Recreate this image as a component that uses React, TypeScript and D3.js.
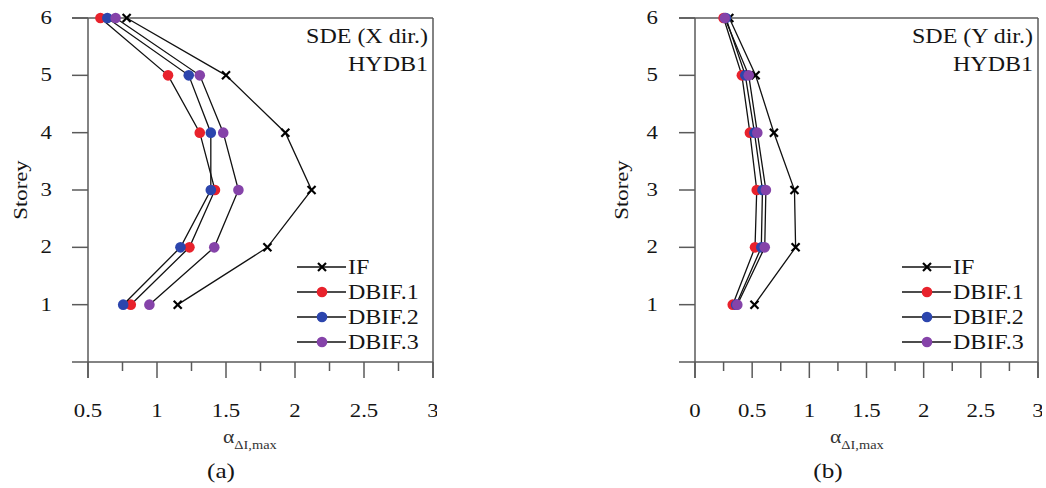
import React from "react";
import * as d3 from "d3";

// ---- data ----
const storeys = [1, 2, 3, 4, 5, 6];
const seriesNames = ["IF", "DBIF.1", "DBIF.2", "DBIF.3"];
const seriesColors = ["#111111", "#e8222c", "#2c45ad", "#8543a9"];

// Panel (a) SDE (X dir.)
const aIF = [1.15, 1.8, 2.12, 1.93, 1.5, 0.78];
const aDBIF1 = [0.81, 1.235, 1.42, 1.31, 1.08, 0.59];
const aDBIF2 = [0.755, 1.17, 1.39, 1.39, 1.23, 0.64];
const aDBIF3 = [0.945, 1.415, 1.59, 1.48, 1.31, 0.7];

// Panel (b) SDE (Y dir.)
const bIF = [0.52, 0.88, 0.87, 0.69, 0.53, 0.3];
const bDBIF1 = [0.33, 0.525, 0.54, 0.48, 0.41, 0.25];
const bDBIF2 = [0.36, 0.58, 0.59, 0.52, 0.44, 0.27];
const bDBIF3 = [0.37, 0.61, 0.62, 0.545, 0.47, 0.26];

const xTicksA = [0.5, 1, 1.5, 2, 2.5, 3];
const xTicksB = [0, 0.5, 1, 1.5, 2, 2.5, 3];
const yTicks = [1, 2, 3, 4, 5, 6];
const tickLabelFmt = (v: number) => String(v);

const FONT = "'Liberation Serif', 'Times New Roman', serif";
const SX = 1.2;
const AXIS = "#5a5a5a";
const TXT = "#151515";

function T({ x, y, size, anchor = "start", children, rotate = 0, fill = TXT }: any) {
  return (
    <text
      transform={`translate(${x},${y}) rotate(${rotate}) scale(${SX},1)`}
      fontFamily={FONT}
      fontSize={size}
      textAnchor={anchor}
      fill={fill}
    >
      {children}
    </text>
  );
}

function Panel({ L, R, top, bottom, xDomain, xTicks, series, title, tag, yLabelX, storeyX, clipRight }: any) {
  const x = d3.scaleLinear().domain(xDomain).range([L, R]);
  const y = d3.scaleLinear().domain([0, 6]).range([bottom, top]);
  const minor = xTicks.slice(0, -1).map((t: number, i: number) => (t + xTicks[i + 1]) / 2);
  const line = d3
    .line<number>()
    .x((d) => x(d))
    .y((_, i) => y(storeys[i]));
  const clipId = `clip-${L}`;
  return (
    <g>
      <defs>
        <clipPath id={clipId}>
          <rect x={0} y={0} width={clipRight} height={488} />
        </clipPath>
      </defs>
      {/* axes frame */}
      <g stroke={AXIS} strokeWidth={1.5} fill="none">
        <line x1={L - 16} x2={R} y1={top} y2={top} />
        <line x1={L - 16} x2={R} y1={bottom} y2={bottom} />
        <line x1={L} x2={L} y1={top} y2={bottom + 16} />
        <line x1={R} x2={R} y1={top} y2={bottom + 16} />
        {yTicks.map((t) => (
          <line key={t} x1={L - 16} x2={L} y1={y(t)} y2={y(t)} />
        ))}
        {xTicks.map((t: number) => (
          <line key={t} x1={x(t)} x2={x(t)} y1={bottom} y2={bottom + 16} />
        ))}
        {minor.map((t: number) => (
          <line key={t} x1={x(t)} x2={x(t)} y1={bottom} y2={bottom + 9} />
        ))}
      </g>
      {/* tick labels */}
      {yTicks.map((t) => (
        <T key={t} x={yLabelX} y={y(t) + 6} size={19} anchor="end">
          {tickLabelFmt(t)}
        </T>
      ))}
      <g clipPath={`url(#${clipId})`}>
        {xTicks.map((t: number) => (
          <T key={t} x={x(t)} y={bottom + 55} size={19} anchor="middle">
            {tickLabelFmt(t)}
          </T>
        ))}
      </g>
      {/* axis titles */}
      <T x={storeyX} y={(top + bottom) / 2} size={19} anchor="middle" rotate={-90}>
        Storey
      </T>
      <text
        transform={`translate(${L + 135},${bottom + 81}) scale(${SX},1)`}
        fontFamily={FONT}
        fontSize={18}
        fill="#333"
      >
        α
        <tspan fontSize={12} dy={6}>
          ΔI,max
        </tspan>
      </text>
      <T x={L + 133} y={bottom + 116} size={21} anchor="middle">
        {tag}
      </T>
      {/* annotation */}
      <T x={R - 5} y={top + 25} size={20} anchor="end">
        {title[0]}
      </T>
      <T x={R - 5} y={top + 53} size={20} anchor="end">
        {title[1]}
      </T>
      {/* series */}
      {series.map((vals: number[], si: number) => (
        <g key={si}>
          <path d={line(vals) || ""} fill="none" stroke="#111" strokeWidth={1.3} />
          {vals.map((v, i) =>
            si === 0 ? (
              <g key={i} stroke="#000" strokeWidth={2.2}>
                <line x1={x(v) - 4} x2={x(v) + 4} y1={y(storeys[i]) - 4} y2={y(storeys[i]) + 4} />
                <line x1={x(v) - 4} x2={x(v) + 4} y1={y(storeys[i]) + 4} y2={y(storeys[i]) - 4} />
              </g>
            ) : (
              <circle key={i} cx={x(v)} cy={y(storeys[i])} r={5.3} fill={seriesColors[si]} />
            )
          )}
        </g>
      ))}
      {/* legend */}
      {seriesNames.map((name, si) => {
        const ly = 267 + si * 25;
        const mx = R - 111;
        return (
          <g key={name}>
            <line x1={R - 136} x2={R - 87} y1={ly} y2={ly} stroke="#111" strokeWidth={1.4} />
            {si === 0 ? (
              <g stroke="#000" strokeWidth={2.2}>
                <line x1={mx - 4} x2={mx + 4} y1={ly - 4} y2={ly + 4} />
                <line x1={mx - 4} x2={mx + 4} y1={ly + 4} y2={ly - 4} />
              </g>
            ) : (
              <circle cx={mx} cy={ly} r={5.3} fill={seriesColors[si]} />
            )}
            <T x={R - 85} y={ly + 7} size={20}>
              {name}
            </T>
          </g>
        );
      })}
    </g>
  );
}

export default function App() {
  return (
    <svg
      width={1046}
      height={488}
      style={{ position: "absolute", left: 0, top: 0, background: "#fff" }}
    >
      <rect width={1046} height={488} fill="#fff" />
      <Panel
        L={88}
        R={433}
        top={18}
        bottom={362}
        xDomain={[0.5, 3]}
        xTicks={xTicksA}
        series={[aIF, aDBIF1, aDBIF2, aDBIF3]}
        title={["SDE (X dir.)", "HYDB1"]}
        tag="(a)"
        yLabelX={52}
        storeyX={27}
        clipRight={437}
      />
      <Panel
        L={695}
        R={1038}
        top={18}
        bottom={362}
        xDomain={[0, 3]}
        xTicks={xTicksB}
        series={[bIF, bDBIF1, bDBIF2, bDBIF3]}
        title={["SDE (Y dir.)", "HYDB1"]}
        tag="(b)"
        yLabelX={658}
        storeyX={628}
        clipRight={1042}
      />
    </svg>
  );
}
